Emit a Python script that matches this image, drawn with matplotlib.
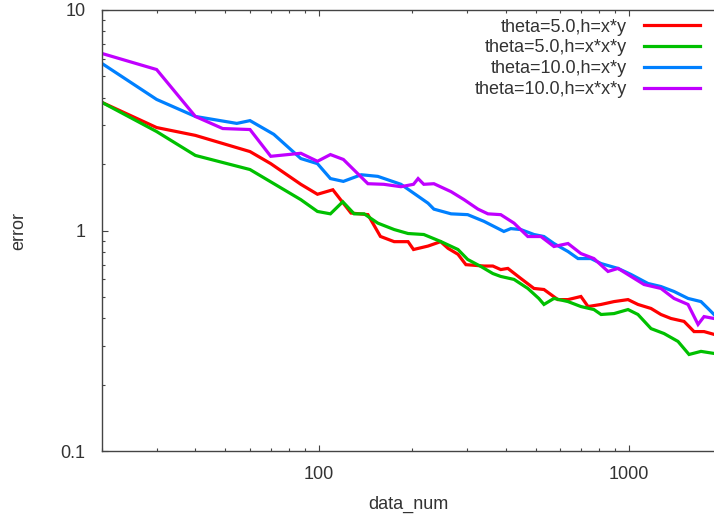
import matplotlib
matplotlib.use('Agg')
import matplotlib.pyplot as plt
from matplotlib.ticker import LogLocator, NullFormatter, FuncFormatter

plt.rcParams['font.family'] = ['Liberation Sans', 'DejaVu Sans']

# values (data_num, error)
red_x = [20, 30, 40, 60, 70, 87.5, 99, 111, 127, 144, 158, 175, 194, 202, 225, 247, 261, 281,
         298, 341, 364, 386, 407, 448, 494, 532, 590, 636, 700, 738, 813, 895, 993, 1069,
         1178, 1268, 1366, 1505, 1621, 1746, 1880]
red_y = [3.81, 2.93, 2.70, 2.28, 2.01, 1.62, 1.46, 1.53, 1.20, 1.18, 0.94, 0.89, 0.89, 0.82,
         0.85, 0.89, 0.83, 0.78, 0.70, 0.69, 0.69, 0.665, 0.673, 0.606, 0.546, 0.54, 0.486,
         0.486, 0.502, 0.452, 0.462, 0.476, 0.486, 0.462, 0.443, 0.416, 0.399, 0.387, 0.348,
         0.348, 0.338]

green_x = [20, 30, 40, 60, 87.5, 99, 109, 119.5, 130, 140, 155, 175, 194, 218, 247, 281, 302,
           333, 364, 386, 426, 472, 512, 532, 573, 636, 700, 771, 813, 895, 993, 1069, 1178,
           1297, 1439, 1562, 1707, 1880]
green_y = [3.81, 2.81, 2.19, 1.89, 1.38, 1.22, 1.19, 1.35, 1.19, 1.19, 1.08, 1.01, 0.969,
           0.959, 0.892, 0.82, 0.739, 0.687, 0.638, 0.619, 0.60, 0.546, 0.492, 0.462, 0.492,
           0.476, 0.452, 0.438, 0.416, 0.42, 0.438, 0.416, 0.359, 0.341, 0.314, 0.274, 0.283,
           0.277]

blue_x = [20, 30, 40, 54.4, 60, 71.6, 87.5, 99, 109, 120, 137, 155, 184, 209, 225, 235, 267,
          302, 341, 395, 416, 448, 494, 532, 573, 636, 685, 754, 813, 922, 1015, 1152, 1268,
          1397, 1550, 1707, 1798, 1880]
blue_y = [5.72, 3.93, 3.29, 3.06, 3.15, 2.73, 2.12, 2.01, 1.72, 1.67, 1.79, 1.76, 1.62, 1.43,
          1.33, 1.25, 1.19, 1.18, 1.10, 0.99, 1.02, 1.01, 0.959, 0.939, 0.873, 0.803, 0.746,
          0.746, 0.708, 0.673, 0.632, 0.575, 0.557, 0.529, 0.492, 0.476, 0.443, 0.416]

purple_x = [20, 30, 40, 49, 60, 70, 87.5, 99, 109, 120, 144, 162, 184, 202, 209, 218, 235,
            267, 294, 326, 351, 386, 426, 472, 520, 573, 636, 700, 771, 856, 922, 1015, 1118,
            1268, 1397, 1550, 1670, 1746, 1880]
purple_y = [6.35, 5.37, 3.29, 2.90, 2.87, 2.17, 2.24, 2.06, 2.21, 2.10, 1.63, 1.62, 1.58,
            1.62, 1.72, 1.62, 1.63, 1.50, 1.38, 1.25, 1.19, 1.18, 1.08, 0.939, 0.939, 0.846,
            0.873, 0.786, 0.746, 0.652, 0.673, 0.619, 0.569, 0.546, 0.492, 0.462, 0.375,
            0.407, 0.399]

labels = ['theta=5.0,h=x*y', 'theta=5.0,h=x*x*y', 'theta=10.0,h=x*y', 'theta=10.0,h=x*x*y']
colors = ['#ff0000', '#00c000', '#0080ff', '#c000ff']

fig = plt.figure(figsize=(7.14, 5.19), dpi=100)
ax = fig.add_axes([102 / 714, 68 / 519, 612 / 714, 441 / 519])

series = [(red_x, red_y), (green_x, green_y), (blue_x, blue_y), (purple_x, purple_y)]
for (xs, ys), lab, col in zip(series, labels, colors):
    ax.plot(xs, ys, color=col, lw=2.3, label=lab, solid_joinstyle='miter')

ax.set_xscale('log')
ax.set_yscale('log')
ax.set_xlim(20, 1880)
ax.set_ylim(0.1, 10)

fmt = FuncFormatter(lambda v, p: '%g' % v)
ax.xaxis.set_major_formatter(fmt)
ax.yaxis.set_major_formatter(fmt)
ax.xaxis.set_minor_formatter(NullFormatter())
ax.yaxis.set_minor_formatter(NullFormatter())
ax.xaxis.set_minor_locator(LogLocator(subs=range(2, 10)))
ax.yaxis.set_minor_locator(LogLocator(subs=range(2, 10)))

ax.tick_params(which='both', direction='in', top=True, right=False, colors='#444444',
               labelcolor='#333333', labelsize=13)
ax.tick_params(which='major', length=4.3, width=0.8, pad=11)
ax.tick_params(which='minor', length=2.2, width=0.8)
ax.tick_params(axis='y', which='major', pad=12)
ax.spines['right'].set_visible(False)
for s in ['left', 'bottom', 'top']:
    ax.spines[s].set_color('#444444')
    ax.spines[s].set_linewidth(1.0)

ax.set_xlabel('data_num', fontsize=13, color='#333333', labelpad=9)
ax.set_ylabel('error', fontsize=13, color='#333333', labelpad=24)

leg = ax.legend(loc='upper right', bbox_to_anchor=(700 / 714, 1 - 18.5 / 519),
                bbox_transform=fig.transFigure, frameon=False, markerfirst=False,
                fontsize=13, handlelength=3.1, handletextpad=0.95, labelspacing=0.21,
                borderpad=0, borderaxespad=0)
for t in leg.get_texts():
    t.set_color('#333333')
    t.set_ha('right')

fig.savefig('out.png', dpi=100)
